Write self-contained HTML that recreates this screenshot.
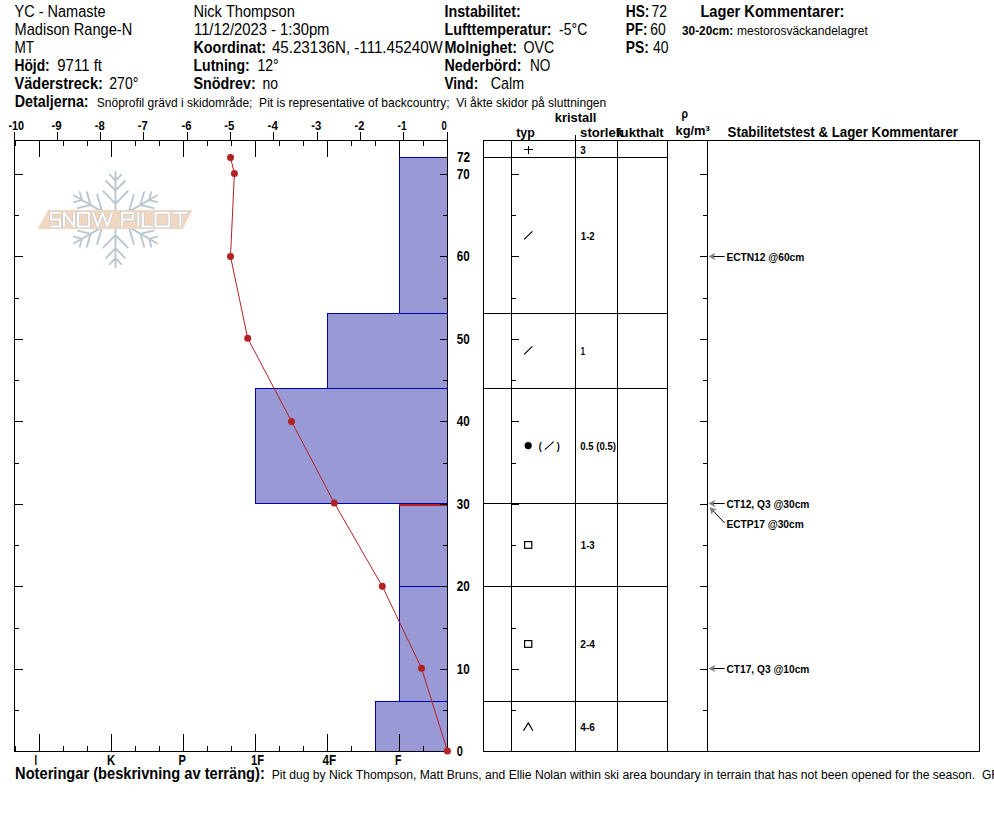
<!DOCTYPE html>
<html><head><meta charset="utf-8"><style>
html,body{margin:0;padding:0;background:#fff;overflow:hidden;}
svg{display:block;}
text{font-family:"Liberation Sans", sans-serif;}
</style></head><body>
<svg width="994" height="840" viewBox="0 0 994 840">
<rect width="994" height="840" fill="#fff"/>
<path d="M115.5,219.4L115.5,171.6M115.5,203.8L103.3,191.2M115.5,203.8L127.7,191.2M115.5,190.6L106.2,181.0M115.5,190.6L124.8,181.0M115.5,180.7L109.7,174.7M115.5,180.7L121.3,174.7M115.5,219.4L74.1,195.5M102.0,211.6L85.0,215.8M102.0,211.6L97.2,194.8M90.6,205.0L77.6,208.2M90.6,205.0L86.9,192.1M82.0,200.1L73.9,202.1M82.0,200.1L79.7,192.1M115.5,219.4L74.1,243.3M102.0,227.2L97.2,244.0M102.0,227.2L85.0,223.0M90.6,233.8L86.9,246.7M90.6,233.8L77.6,230.6M82.0,238.8L79.7,246.7M82.0,238.8L73.9,236.7M115.5,219.4L115.5,267.2M115.5,235.0L127.7,247.6M115.5,235.0L103.3,247.6M115.5,248.2L124.8,257.8M115.5,248.2L106.2,257.8M115.5,258.1L121.3,264.1M115.5,258.1L109.7,264.1M115.5,219.4L156.9,243.3M129.0,227.2L146.0,223.0M129.0,227.2L133.8,244.0M140.4,233.8L153.4,230.6M140.4,233.8L144.1,246.7M149.0,238.8L157.1,236.7M149.0,238.8L151.3,246.7M115.5,219.4L156.9,195.5M129.0,211.6L133.8,194.8M129.0,211.6L146.0,215.8M140.4,205.0L144.1,192.1M140.4,205.0L153.4,208.2M149.0,200.1L151.3,192.1M149.0,200.1L157.1,202.1" stroke="#b8c7d0" stroke-width="1.9" stroke-linecap="round" fill="none"/><polygon points="48,210 192.5,210 182.7,229 37.7,229" fill="#efd7c2"/><path d="M60,212.7L51.1,212.7L51.1,219.6L60,219.6L60,226.4L51.1,226.4M63.9,226.4L63.9,212.7L74,226.4L74,212.7M78.2,212.7L89.1,212.7L89.1,226.4L78.2,226.4ZM93,212.7L97.8,226.4L102.5,212.7L107.3,226.4L112.1,212.7M122.2,226.4L122.2,212.7L132.7,212.7L132.7,219.6L122.2,219.6M138.3,212.7L138.3,226.4M142.8,212.7L142.8,226.4L151.6,226.4M155.6,212.7L169.3,212.7L169.3,226.4L155.6,226.4ZM173.3,212.7L187.4,212.7M180.35,212.7L180.35,226.4" stroke="#bcc5cc" stroke-width="3.1" fill="none" stroke-linejoin="miter" stroke-miterlimit="1.5"/><path d="M60,212.7L51.1,212.7L51.1,219.6L60,219.6L60,226.4L51.1,226.4M63.9,226.4L63.9,212.7L74,226.4L74,212.7M78.2,212.7L89.1,212.7L89.1,226.4L78.2,226.4ZM93,212.7L97.8,226.4L102.5,212.7L107.3,226.4L112.1,212.7M122.2,226.4L122.2,212.7L132.7,212.7L132.7,219.6L122.2,219.6M138.3,212.7L138.3,226.4M142.8,212.7L142.8,226.4L151.6,226.4M155.6,212.7L169.3,212.7L169.3,226.4L155.6,226.4ZM173.3,212.7L187.4,212.7M180.35,212.7L180.35,226.4" stroke="#ffffff" stroke-width="2.0" fill="none" stroke-linejoin="miter" stroke-miterlimit="1.5"/>
<text transform="translate(14.50,17) scale(0.9066,1)" x="0" y="0" font-size="16" fill="#000">YC&#160;-&#160;Namaste</text>
<text transform="translate(14.50,35) scale(0.9142,1)" x="0" y="0" font-size="16" fill="#000">Madison&#160;Range-N</text>
<text transform="translate(14.50,53) scale(0.8521,1)" x="0" y="0" font-size="16" fill="#000">MT</text>
<text transform="translate(14.50,71) scale(0.8611,1)" x="0" y="0" font-size="16" font-weight="bold" fill="#000">Höjd:</text>
<text transform="translate(57.30,71) scale(0.9359,1)" x="0" y="0" font-size="16" fill="#000">9711&#160;ft</text>
<text transform="translate(14.50,89) scale(0.9127,1)" x="0" y="0" font-size="16" font-weight="bold" fill="#000">Väderstreck:</text>
<text transform="translate(109.30,89) scale(0.8786,1)" x="0" y="0" font-size="16" fill="#000">270°</text>
<text transform="translate(14.80,107) scale(0.8934,1)" x="0" y="0" font-size="16" font-weight="bold" fill="#000">Detaljerna:</text>
<text transform="translate(96.80,107) scale(1.0029,1)" x="0" y="0" font-size="12" fill="#000">Snöprofil&#160;grävd&#160;i&#160;skidområde;&#160;&#160;Pit&#160;is&#160;representative&#160;of&#160;backcountry;&#160;&#160;Vi&#160;åkte&#160;skidor&#160;på&#160;sluttningen</text>
<text transform="translate(193.50,17) scale(0.9127,1)" x="0" y="0" font-size="16" fill="#000">Nick&#160;Thompson</text>
<text transform="translate(194.00,35) scale(0.9250,1)" x="0" y="0" font-size="16" fill="#000">11/12/2023&#160;-&#160;1:30pm</text>
<text transform="translate(193.50,53) scale(0.8976,1)" x="0" y="0" font-size="16" font-weight="bold" fill="#000">Koordinat:</text>
<text transform="translate(271.90,53) scale(0.9459,1)" x="0" y="0" font-size="16" fill="#000">45.23136N,&#160;-111.45240W</text>
<text transform="translate(193.50,71) scale(0.8797,1)" x="0" y="0" font-size="16" font-weight="bold" fill="#000">Lutning:</text>
<text transform="translate(257.40,71) scale(0.8775,1)" x="0" y="0" font-size="16" fill="#000">12°</text>
<text transform="translate(193.50,89) scale(0.8982,1)" x="0" y="0" font-size="16" font-weight="bold" fill="#000">Snödrev:</text>
<text transform="translate(262.50,89) scale(0.8727,1)" x="0" y="0" font-size="16" fill="#000">no</text>
<text transform="translate(444.40,17) scale(0.8962,1)" x="0" y="0" font-size="16" font-weight="bold" fill="#000">Instabilitet:</text>
<text transform="translate(444.40,35) scale(0.9008,1)" x="0" y="0" font-size="16" font-weight="bold" fill="#000">Lufttemperatur:</text>
<text transform="translate(559.10,35) scale(0.8769,1)" x="0" y="0" font-size="16" fill="#000">-5°C</text>
<text transform="translate(444.40,53) scale(0.8989,1)" x="0" y="0" font-size="16" font-weight="bold" fill="#000">Molnighet:</text>
<text transform="translate(523.50,53) scale(0.8891,1)" x="0" y="0" font-size="16" fill="#000">OVC</text>
<text transform="translate(444.40,71) scale(0.8940,1)" x="0" y="0" font-size="16" font-weight="bold" fill="#000">Nederbörd:</text>
<text transform="translate(529.90,71) scale(0.8500,1)" x="0" y="0" font-size="16" fill="#000">NO</text>
<text transform="translate(444.40,89) scale(0.8518,1)" x="0" y="0" font-size="16" font-weight="bold" fill="#000">Vind:</text>
<text transform="translate(490.70,89) scale(0.8940,1)" x="0" y="0" font-size="16" fill="#000">Calm</text>
<text transform="translate(625.70,17) scale(0.8612,1)" x="0" y="0" font-size="16" font-weight="bold" fill="#000">HS:</text>
<text transform="translate(651.60,17) scale(0.8727,1)" x="0" y="0" font-size="16" fill="#000">72</text>
<text transform="translate(625.70,35) scale(0.8424,1)" x="0" y="0" font-size="16" font-weight="bold" fill="#000">PF:</text>
<text transform="translate(650.20,35) scale(0.8727,1)" x="0" y="0" font-size="16" fill="#000">60</text>
<text transform="translate(625.70,53) scale(0.8671,1)" x="0" y="0" font-size="16" font-weight="bold" fill="#000">PS:</text>
<text transform="translate(653.00,53) scale(0.8727,1)" x="0" y="0" font-size="16" fill="#000">40</text>
<text transform="translate(700.40,17) scale(0.9164,1)" x="0" y="0" font-size="16" font-weight="bold" fill="#000">Lager&#160;Kommentarer:</text>
<text transform="translate(682.00,35) scale(0.9862,1)" x="0" y="0" font-size="12" font-weight="bold" fill="#000">30-20cm:</text>
<text transform="translate(737.00,35) scale(1.0020,1)" x="0" y="0" font-size="12" fill="#000">mestorosväckandelagret</text>
<rect x="399" y="157" width="48" height="156" fill="#9999d6"/>
<rect x="327" y="313" width="120" height="75" fill="#9999d6"/>
<rect x="255" y="388" width="192" height="115" fill="#9999d6"/>
<rect x="399" y="503" width="48" height="83" fill="#9999d6"/>
<rect x="399" y="586" width="48" height="115" fill="#9999d6"/>
<rect x="375" y="701" width="72" height="50" fill="#9999d6"/>
<rect x="399" y="157" width="48" height="1" fill="#0000a8"/>
<rect x="399" y="313" width="48" height="1" fill="#0000a8"/>
<rect x="399" y="157" width="1" height="157" fill="#0000a8"/>
<rect x="327" y="313" width="120" height="1" fill="#0000a8"/>
<rect x="327" y="388" width="120" height="1" fill="#0000a8"/>
<rect x="327" y="313" width="1" height="76" fill="#0000a8"/>
<rect x="255" y="388" width="192" height="1" fill="#0000a8"/>
<rect x="255" y="503" width="192" height="1" fill="#0000a8"/>
<rect x="255" y="388" width="1" height="116" fill="#0000a8"/>
<rect x="399" y="503" width="48" height="1" fill="#0000a8"/>
<rect x="399" y="586" width="48" height="1" fill="#0000a8"/>
<rect x="399" y="503" width="1" height="84" fill="#0000a8"/>
<rect x="399" y="586" width="48" height="1" fill="#0000a8"/>
<rect x="399" y="701" width="48" height="1" fill="#0000a8"/>
<rect x="399" y="586" width="1" height="116" fill="#0000a8"/>
<rect x="375" y="701" width="72" height="1" fill="#0000a8"/>
<rect x="375" y="751" width="72" height="1" fill="#0000a8"/>
<rect x="375" y="701" width="1" height="51" fill="#0000a8"/>
<rect x="399" y="504" width="48" height="2" fill="#c01f1f"/>
<rect x="14" y="140" width="1" height="612" fill="#000"/>
<rect x="447" y="140" width="1" height="612" fill="#000"/>
<rect x="14" y="140" width="434" height="1" fill="#000"/>
<rect x="14" y="751" width="434" height="1" fill="#000"/>
<rect x="14" y="132" width="1" height="8" fill="#000"/>
<rect x="57" y="132" width="1" height="8" fill="#000"/>
<rect x="100" y="132" width="1" height="8" fill="#000"/>
<rect x="143" y="132" width="1" height="8" fill="#000"/>
<rect x="187" y="132" width="1" height="8" fill="#000"/>
<rect x="230" y="132" width="1" height="8" fill="#000"/>
<rect x="273" y="132" width="1" height="8" fill="#000"/>
<rect x="317" y="132" width="1" height="8" fill="#000"/>
<rect x="360" y="132" width="1" height="8" fill="#000"/>
<rect x="403" y="132" width="1" height="8" fill="#000"/>
<rect x="447" y="132" width="1" height="8" fill="#000"/>
<text transform="translate(8.45,130) scale(0.8331,1)" x="0" y="0" font-size="13" font-weight="bold" fill="#000">-10</text>
<text transform="translate(51.40,130) scale(0.8816,1)" x="0" y="0" font-size="13" font-weight="bold" fill="#000">-9</text>
<text transform="translate(94.80,130) scale(0.8643,1)" x="0" y="0" font-size="13" font-weight="bold" fill="#000">-8</text>
<text transform="translate(137.80,130) scale(0.8643,1)" x="0" y="0" font-size="13" font-weight="bold" fill="#000">-7</text>
<text transform="translate(181.50,130) scale(0.8643,1)" x="0" y="0" font-size="13" font-weight="bold" fill="#000">-6</text>
<text transform="translate(224.30,130) scale(0.8816,1)" x="0" y="0" font-size="13" font-weight="bold" fill="#000">-5</text>
<text transform="translate(267.60,130) scale(0.8902,1)" x="0" y="0" font-size="13" font-weight="bold" fill="#000">-4</text>
<text transform="translate(311.30,130) scale(0.8729,1)" x="0" y="0" font-size="13" font-weight="bold" fill="#000">-3</text>
<text transform="translate(354.50,130) scale(0.8557,1)" x="0" y="0" font-size="13" font-weight="bold" fill="#000">-2</text>
<text transform="translate(397.50,130) scale(0.7865,1)" x="0" y="0" font-size="13" font-weight="bold" fill="#000">-1</text>
<text transform="translate(441.60,130) scale(0.7346,1)" x="0" y="0" font-size="13" font-weight="bold" fill="#000">0</text>
<rect x="15" y="141" width="1" height="5" fill="#000"/>
<rect x="15" y="746" width="1" height="5" fill="#000"/>
<rect x="39" y="141" width="1" height="16" fill="#000"/>
<rect x="39" y="734" width="1" height="17" fill="#000"/>
<rect x="63" y="141" width="1" height="5" fill="#000"/>
<rect x="63" y="746" width="1" height="5" fill="#000"/>
<rect x="87" y="141" width="1" height="5" fill="#000"/>
<rect x="87" y="746" width="1" height="5" fill="#000"/>
<rect x="111" y="141" width="1" height="16" fill="#000"/>
<rect x="111" y="734" width="1" height="17" fill="#000"/>
<rect x="135" y="141" width="1" height="5" fill="#000"/>
<rect x="135" y="746" width="1" height="5" fill="#000"/>
<rect x="159" y="141" width="1" height="5" fill="#000"/>
<rect x="159" y="746" width="1" height="5" fill="#000"/>
<rect x="183" y="141" width="1" height="16" fill="#000"/>
<rect x="183" y="734" width="1" height="17" fill="#000"/>
<rect x="207" y="141" width="1" height="5" fill="#000"/>
<rect x="207" y="746" width="1" height="5" fill="#000"/>
<rect x="231" y="141" width="1" height="5" fill="#000"/>
<rect x="231" y="746" width="1" height="5" fill="#000"/>
<rect x="255" y="141" width="1" height="16" fill="#000"/>
<rect x="255" y="734" width="1" height="17" fill="#000"/>
<rect x="279" y="141" width="1" height="5" fill="#000"/>
<rect x="279" y="746" width="1" height="5" fill="#000"/>
<rect x="303" y="141" width="1" height="5" fill="#000"/>
<rect x="303" y="746" width="1" height="5" fill="#000"/>
<rect x="327" y="141" width="1" height="16" fill="#000"/>
<rect x="327" y="734" width="1" height="17" fill="#000"/>
<rect x="351" y="141" width="1" height="5" fill="#000"/>
<rect x="351" y="746" width="1" height="5" fill="#000"/>
<rect x="375" y="141" width="1" height="5" fill="#000"/>
<rect x="375" y="746" width="1" height="5" fill="#000"/>
<rect x="399" y="141" width="1" height="16" fill="#000"/>
<rect x="399" y="734" width="1" height="17" fill="#000"/>
<rect x="423" y="141" width="1" height="5" fill="#000"/>
<rect x="423" y="746" width="1" height="5" fill="#000"/>
<text transform="translate(34.50,765) scale(0.6404,1)" x="0" y="0" font-size="14.5" font-weight="bold" fill="#000">I</text>
<text transform="translate(106.90,765) scale(0.7759,1)" x="0" y="0" font-size="14.5" font-weight="bold" fill="#000">K</text>
<text transform="translate(178.60,765) scale(0.7674,1)" x="0" y="0" font-size="14.5" font-weight="bold" fill="#000">P</text>
<text transform="translate(251.10,765) scale(0.7696,1)" x="0" y="0" font-size="14.5" font-weight="bold" fill="#000">1F</text>
<text transform="translate(322.50,765) scale(0.8110,1)" x="0" y="0" font-size="14.5" font-weight="bold" fill="#000">4F</text>
<text transform="translate(395.00,765) scale(0.7236,1)" x="0" y="0" font-size="14.5" font-weight="bold" fill="#000">F</text>
<rect x="15" y="710" width="4" height="1" fill="#000"/>
<rect x="443" y="710" width="4" height="1" fill="#000"/>
<rect x="512" y="710" width="4" height="1" fill="#000"/>
<rect x="703" y="710" width="4" height="1" fill="#000"/>
<rect x="15" y="669" width="8" height="1" fill="#000"/>
<rect x="440" y="669" width="7" height="1" fill="#000"/>
<rect x="512" y="669" width="7" height="1" fill="#000"/>
<rect x="700" y="669" width="7" height="1" fill="#000"/>
<rect x="15" y="628" width="4" height="1" fill="#000"/>
<rect x="443" y="628" width="4" height="1" fill="#000"/>
<rect x="512" y="628" width="4" height="1" fill="#000"/>
<rect x="703" y="628" width="4" height="1" fill="#000"/>
<rect x="15" y="586" width="8" height="1" fill="#000"/>
<rect x="440" y="586" width="7" height="1" fill="#000"/>
<rect x="512" y="586" width="7" height="1" fill="#000"/>
<rect x="700" y="586" width="7" height="1" fill="#000"/>
<rect x="15" y="545" width="4" height="1" fill="#000"/>
<rect x="443" y="545" width="4" height="1" fill="#000"/>
<rect x="512" y="545" width="4" height="1" fill="#000"/>
<rect x="703" y="545" width="4" height="1" fill="#000"/>
<rect x="15" y="504" width="8" height="1" fill="#000"/>
<rect x="440" y="504" width="7" height="1" fill="#000"/>
<rect x="512" y="504" width="7" height="1" fill="#000"/>
<rect x="700" y="504" width="7" height="1" fill="#000"/>
<rect x="15" y="463" width="4" height="1" fill="#000"/>
<rect x="443" y="463" width="4" height="1" fill="#000"/>
<rect x="512" y="463" width="4" height="1" fill="#000"/>
<rect x="703" y="463" width="4" height="1" fill="#000"/>
<rect x="15" y="421" width="8" height="1" fill="#000"/>
<rect x="440" y="421" width="7" height="1" fill="#000"/>
<rect x="512" y="421" width="7" height="1" fill="#000"/>
<rect x="700" y="421" width="7" height="1" fill="#000"/>
<rect x="15" y="380" width="4" height="1" fill="#000"/>
<rect x="443" y="380" width="4" height="1" fill="#000"/>
<rect x="512" y="380" width="4" height="1" fill="#000"/>
<rect x="703" y="380" width="4" height="1" fill="#000"/>
<rect x="15" y="339" width="8" height="1" fill="#000"/>
<rect x="440" y="339" width="7" height="1" fill="#000"/>
<rect x="512" y="339" width="7" height="1" fill="#000"/>
<rect x="700" y="339" width="7" height="1" fill="#000"/>
<rect x="15" y="298" width="4" height="1" fill="#000"/>
<rect x="443" y="298" width="4" height="1" fill="#000"/>
<rect x="512" y="298" width="4" height="1" fill="#000"/>
<rect x="703" y="298" width="4" height="1" fill="#000"/>
<rect x="15" y="256" width="8" height="1" fill="#000"/>
<rect x="440" y="256" width="7" height="1" fill="#000"/>
<rect x="512" y="256" width="7" height="1" fill="#000"/>
<rect x="700" y="256" width="7" height="1" fill="#000"/>
<rect x="15" y="215" width="4" height="1" fill="#000"/>
<rect x="443" y="215" width="4" height="1" fill="#000"/>
<rect x="512" y="215" width="4" height="1" fill="#000"/>
<rect x="703" y="215" width="4" height="1" fill="#000"/>
<rect x="15" y="174" width="8" height="1" fill="#000"/>
<rect x="440" y="174" width="7" height="1" fill="#000"/>
<rect x="512" y="174" width="7" height="1" fill="#000"/>
<rect x="700" y="174" width="7" height="1" fill="#000"/>
<rect x="440" y="157" width="7" height="1" fill="#000"/>
<text transform="translate(456.80,674) scale(0.8301,1)" x="0" y="0" font-size="14" font-weight="bold" fill="#000">10</text>
<text transform="translate(456.80,591) scale(0.8301,1)" x="0" y="0" font-size="14" font-weight="bold" fill="#000">20</text>
<text transform="translate(456.80,509) scale(0.8301,1)" x="0" y="0" font-size="14" font-weight="bold" fill="#000">30</text>
<text transform="translate(456.80,426) scale(0.8301,1)" x="0" y="0" font-size="14" font-weight="bold" fill="#000">40</text>
<text transform="translate(456.80,344) scale(0.8301,1)" x="0" y="0" font-size="14" font-weight="bold" fill="#000">50</text>
<text transform="translate(456.80,261) scale(0.8301,1)" x="0" y="0" font-size="14" font-weight="bold" fill="#000">60</text>
<text transform="translate(456.80,179) scale(0.8301,1)" x="0" y="0" font-size="14" font-weight="bold" fill="#000">70</text>
<text transform="translate(457.00,162) scale(0.8494,1)" x="0" y="0" font-size="14" font-weight="bold" fill="#000">72</text>
<text transform="translate(456.70,756) scale(0.7851,1)" x="0" y="0" font-size="14" font-weight="bold" fill="#000">0</text>
<polyline points="230.5,157.4 234.4,173.6 230.5,256.4 247.7,338.3 291.5,421.4 334.3,503 382.3,586.3 421.5,668.2 447.4,750.9" fill="none" stroke="#b22222" stroke-width="1"/>
<circle cx="230.5" cy="157.4" r="3.5" fill="#b22222"/>
<circle cx="234.4" cy="173.6" r="3.5" fill="#b22222"/>
<circle cx="230.5" cy="256.4" r="3.5" fill="#b22222"/>
<circle cx="247.7" cy="338.3" r="3.5" fill="#b22222"/>
<circle cx="291.5" cy="421.4" r="3.5" fill="#b22222"/>
<circle cx="334.3" cy="503" r="3.5" fill="#b22222"/>
<circle cx="382.3" cy="586.3" r="3.5" fill="#b22222"/>
<circle cx="421.5" cy="668.2" r="3.5" fill="#b22222"/>
<circle cx="447.4" cy="750.9" r="3.5" fill="#b22222"/>
<rect x="483" y="140" width="1" height="612" fill="#000"/>
<rect x="511" y="140" width="1" height="612" fill="#000"/>
<rect x="575" y="140" width="1" height="612" fill="#000"/>
<rect x="617" y="140" width="1" height="612" fill="#000"/>
<rect x="667" y="140" width="1" height="612" fill="#000"/>
<rect x="707" y="140" width="1" height="612" fill="#000"/>
<rect x="979" y="140" width="1" height="612" fill="#000"/>
<rect x="575" y="135" width="1" height="5" fill="#000"/>
<rect x="483" y="140" width="497" height="1" fill="#000"/>
<rect x="483" y="751" width="497" height="1" fill="#000"/>
<rect x="483" y="157" width="185" height="1" fill="#000"/>
<rect x="483" y="313" width="185" height="1" fill="#000"/>
<rect x="483" y="388" width="185" height="1" fill="#000"/>
<rect x="483" y="503" width="185" height="1" fill="#000"/>
<rect x="483" y="586" width="185" height="1" fill="#000"/>
<rect x="483" y="701" width="185" height="1" fill="#000"/>
<text transform="translate(554.70,122) scale(0.9601,1)" x="0" y="0" font-size="13.5" font-weight="bold" fill="#000">kristall</text>
<text transform="translate(516.20,136.5) scale(0.9185,1)" x="0" y="0" font-size="13.5" font-weight="bold" fill="#000">typ</text>
<text x="580.1" y="136.5" font-size="13.5" font-weight="bold" fill="#000" textLength="43" lengthAdjust="spacingAndGlyphs">storlek</text>
<text transform="translate(616.20,136.5) scale(0.9767,1)" x="0" y="0" font-size="13.5" font-weight="bold" fill="#000">fukthalt</text>
<text transform="translate(681.50,117.7) scale(0.7766,1)" x="0" y="0" font-size="13.5" font-weight="bold" fill="#000">ρ</text>
<text transform="translate(675.50,134.5) scale(0.9534,1)" x="0" y="0" font-size="13.5" font-weight="bold" fill="#000">kg/m³</text>
<text transform="translate(727.60,137) scale(0.9503,1)" x="0" y="0" font-size="14" font-weight="bold" fill="#000">Stabilitetstest&#160;&amp;&#160;Lager&#160;Kommentarer</text>
<text transform="translate(580.30,154) scale(0.9009,1)" x="0" y="0" font-size="11" font-weight="bold" fill="#000">3</text>
<text transform="translate(580.80,240) scale(0.8745,1)" x="0" y="0" font-size="11" font-weight="bold" fill="#000">1-2</text>
<text transform="translate(580.80,355) scale(0.6880,1)" x="0" y="0" font-size="11" font-weight="bold" fill="#000">1</text>
<text transform="translate(580.30,450) scale(0.8713,1)" x="0" y="0" font-size="11" font-weight="bold" fill="#000">0.5&#160;(0.5)</text>
<text transform="translate(580.80,549) scale(0.8745,1)" x="0" y="0" font-size="11" font-weight="bold" fill="#000">1-3</text>
<text transform="translate(580.30,648) scale(0.9185,1)" x="0" y="0" font-size="11" font-weight="bold" fill="#000">2-4</text>
<text transform="translate(580.30,731) scale(0.9185,1)" x="0" y="0" font-size="11" font-weight="bold" fill="#000">4-6</text>
<rect x="528" y="146" width="1" height="8" fill="#000"/>
<rect x="524" y="149" width="9" height="1" fill="#000"/>
<line x1="524.1" y1="239.4" x2="532.4" y2="231.4" stroke="#000" stroke-width="1.2" />
<line x1="524.1" y1="354.4" x2="532.4" y2="346.4" stroke="#000" stroke-width="1.2" />
<circle cx="528.2" cy="445.6" r="3.6" fill="#000"/>
<text transform="translate(538.80,450) scale(0.8141,1)" x="0" y="0" font-size="11" font-weight="bold" fill="#000">(</text>
<line x1="544.9" y1="449.7" x2="553.7" y2="441.6" stroke="#000" stroke-width="1.1" />
<text transform="translate(556.80,450) scale(0.8141,1)" x="0" y="0" font-size="11" font-weight="bold" fill="#000">)</text>
<rect x="524.6" y="541.6" width="7.2" height="6.7" fill="none" stroke="#000" stroke-width="1.2"/>
<rect x="524.6" y="640.6" width="7.2" height="6.7" fill="none" stroke="#000" stroke-width="1.2"/>
<polyline points="523.5,730.6 528.3,722.9 532.8,730.6" fill="none" stroke="#000" stroke-width="1.15"/>
<line x1="713.2" y1="256.5" x2="724.6" y2="256.5" stroke="#000" stroke-width="1" />
<polygon points="709.00,256.50 714.80,259.50 713.20,256.50 714.80,253.50" fill="#7a7a7a" stroke="#7a7a7a" stroke-width="0.6"/>
<text x="726.4" y="261" font-size="10.2" font-weight="bold" fill="#000" >ECTN12&#160;@60cm</text>
<line x1="713.2" y1="503.5" x2="724.6" y2="503.5" stroke="#000" stroke-width="1" />
<polygon points="709.00,503.50 714.80,506.50 713.20,503.50 714.80,500.50" fill="#7a7a7a" stroke="#7a7a7a" stroke-width="0.6"/>
<text x="726.4" y="508" font-size="10.2" font-weight="bold" fill="#000" >CT12,&#160;Q3&#160;@30cm</text>
<line x1="712.8797620157071" y1="510.5572815920178" x2="724.6" y2="523" stroke="#000" stroke-width="1" />
<polygon points="710.00,507.50 711.79,513.78 712.88,510.56 716.16,509.66" fill="#7a7a7a" stroke="#7a7a7a" stroke-width="0.6"/>
<text x="726.4" y="527.5" font-size="10.2" font-weight="bold" fill="#000" >ECTP17&#160;@30cm</text>
<line x1="713.2" y1="668.5" x2="724.6" y2="668.5" stroke="#000" stroke-width="1" />
<polygon points="709.00,668.50 714.80,671.50 713.20,668.50 714.80,665.50" fill="#7a7a7a" stroke="#7a7a7a" stroke-width="0.6"/>
<text x="726.4" y="673" font-size="10.2" font-weight="bold" fill="#000" >CT17,&#160;Q3&#160;@10cm</text>
<text transform="translate(15.10,779) scale(0.9155,1)" x="0" y="0" font-size="16" font-weight="bold" fill="#000">Noteringar&#160;(beskrivning&#160;av&#160;terräng):</text>
<text transform="translate(271.70,779) scale(1.0107,1)" x="0" y="0" font-size="12" fill="#000">Pit&#160;dug&#160;by&#160;Nick&#160;Thompson,&#160;Matt&#160;Bruns,&#160;and&#160;Ellie&#160;Nolan&#160;within&#160;ski&#160;area&#160;boundary&#160;in&#160;terrain&#160;that&#160;has&#160;not&#160;been&#160;opened&#160;for&#160;the&#160;season.</text>
<text x="982" y="779" font-size="12" fill="#000" >GF</text>
</svg></body></html>
